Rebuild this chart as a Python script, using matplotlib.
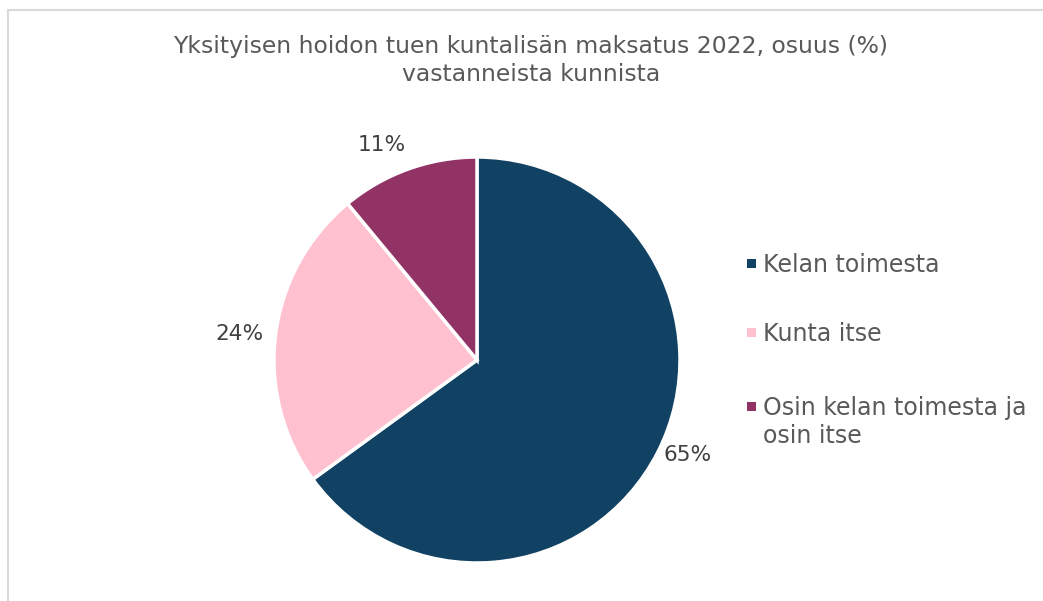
import matplotlib
matplotlib.use("Agg")
import matplotlib.pyplot as plt
from matplotlib.patches import Rectangle
import numpy as np

categories = ["Kelan toimesta", "Kunta itse", "Osin kelan toimesta ja\nosin itse"]
values = [65, 24, 11]
colors = ["#114263", "#FFC0CF", "#923366"]
title = "Yksityisen hoidon tuen kuntalisän maksatus 2022, osuus (%)\nvastanneista kunnista"

W, H = 1043, 601
fig = plt.figure(figsize=(W / 100, H / 100), dpi=100)
fig.patch.set_facecolor("white")

# outer frame
fig.patches.append(Rectangle((8 / W, -0.1), 1.2, 1 - 10 / H + 0.1, transform=fig.transFigure,
                             fill=False, edgecolor="#D9D9D9", linewidth=1.5))

for i, line in enumerate(title.split("\n")):
    fig.text(531 / W, 1 - (53 + 28 * i) / H, line, ha="center", va="baseline", fontsize=16.9,
             family="DejaVu Sans", color="#595959")

cx, cy, r = 477, 360, 203
ax = fig.add_axes([(cx - r) / W, (H - cy - r) / H, 2 * r / W, 2 * r / H])
wedges, texts = ax.pie(values, colors=colors, startangle=90, counterclock=False,
                       labels=[f"{v}%" for v in values], labeldistance=1.03,
                       wedgeprops=dict(edgecolor="white", linewidth=2.5),
                       textprops=dict(fontsize=15.6, family="DejaVu Sans", color="#404040"))
ax.set_xlim(-1, 1)
ax.set_ylim(-1, 1)
ax.set_aspect("equal")
# fine-tune label placement (outside end)
x, y = texts[1].get_position()
texts[1].set_position((x * 1.03, y))
x, y = texts[2].get_position()
texts[2].set_va("bottom")
texts[2].set_position((x, y * 1.04))

# legend
leg_x = 763 / W
leg_base = [272, 341, 415]
for lab, col, yb in zip(categories, colors, leg_base):
    fig.patches.append(Rectangle((747 / W, 1 - (yb - 4) / H), 9 / W, 9 / H, transform=fig.transFigure,
                                 facecolor=col, edgecolor="none"))
    for i, line in enumerate(lab.split("\n")):
        fig.text(leg_x, 1 - (yb + 28 * i) / H, line, ha="left", va="baseline",
                 fontsize=17, family="DejaVu Sans", color="#595959")

fig.savefig("out.png", dpi=100)
